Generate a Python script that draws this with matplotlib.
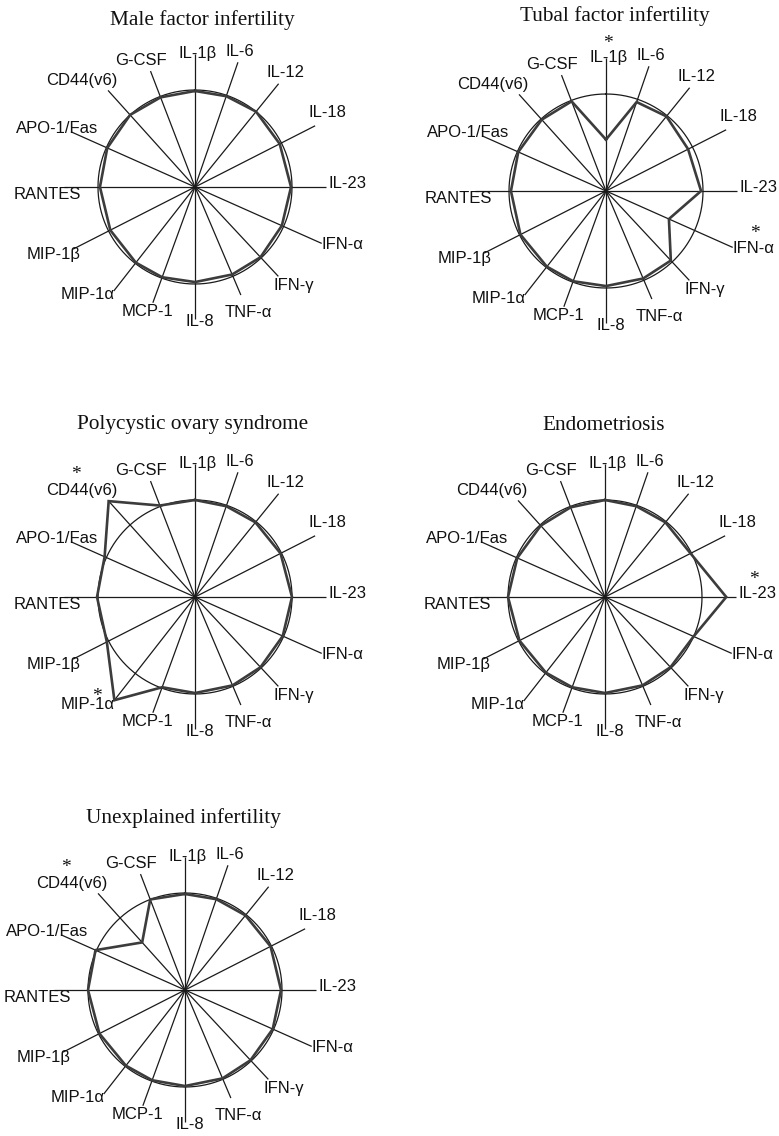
import numpy as np
import matplotlib
matplotlib.use("Agg")
import matplotlib.pyplot as plt

# ---------------- data ----------------
cytokines = ["IL-1β", "IL-6", "IL-12", "IL-18", "IL-23", "IFN-α", "IFN-γ", "TNF-α",
             "IL-8", "MCP-1", "MIP-1α", "MIP-1β", "RANTES", "APO-1/Fas", "CD44(v6)", "G-CSF"]

titles = ["Male factor infertility", "Tubal factor infertility",
          "Polycystic ovary syndrome", "Endometriosis", "Unexplained infertility"]

# ratio to reference (circle = 1)
male = [0.99, 0.99, 1.00, 0.98, 0.99, 0.98, 0.99, 0.98, 0.98, 0.99, 0.99, 0.98, 0.98, 0.99, 1.00, 0.99]
tubal = [0.53, 0.97, 0.99, 0.95, 0.98, 0.71, 0.98, 0.98, 0.98, 0.99, 0.99, 0.99, 0.98, 0.99, 0.99, 0.99]
pcos = [1.00, 0.99, 0.99, 0.99, 1.00, 0.99, 0.99, 0.99, 0.99, 0.99, 1.35, 1.02, 1.01, 1.02, 1.33, 1.01]
endo = [1.00, 0.99, 0.99, 0.99, 1.25, 1.00, 0.99, 0.99, 0.99, 0.99, 0.99, 0.99, 1.00, 0.99, 0.99, 0.99]
unexpl = [0.99, 0.99, 0.99, 0.99, 0.99, 0.99, 0.99, 0.99, 0.99, 0.99, 0.99, 0.99, 1.00, 1.01, 0.66, 1.00]
groups = [male, tubal, pcos, endo, unexpl]

# significant differences (*)
significant = [[], ["IL-1β", "IFN-α"], ["CD44(v6)", "MIP-1α"], ["IL-23"], ["CD44(v6)"]]

# ---------------- layout ----------------
W, H, DPI = 779, 1136, 100
spoke_deg = [0, 19, 39, 63, 90, 114, 137, 157, 180, 200, 218, 243, 270, 294, 318, 339]
spoke_len = [1.37, 1.36, 1.37, 1.39, 1.35, 1.43, 1.26, 1.21, 1.36, 1.27, 1.36, 1.41, 1.35, 1.40, 1.34, 1.28]
label_deg = [1, 18.4, 38.4, 60.7, 88.5, 111.5, 134.7, 157, 178, 201, 225, 244.4, 267, 293.1, 313.4, 337]
label_r = [1.38, 1.47, 1.51, 1.56, 1.57, 1.63, 1.44, 1.40, 1.39, 1.38, 1.57, 1.62, 1.52, 1.55, 1.60, 1.42]
star_off = {"IL-1β": (0, 14), "IFN-α": (2, 15), "CD44(v6)": (-6, 16), "MIP-1α": (10, 8), "IL-23": (-3, 14)}

centers = [(195, 187), (606, 191), (195, 597), (605, 597), (185, 990)]
title_pos = [(202, 20), (615, 16), (193, 425), (604, 425), (183, 818)]
rpx = 97.0
RMAX = 1.8

fig = plt.figure(figsize=(W / DPI, H / DPI), dpi=DPI)
fig.patch.set_facecolor("white")

th_sp = np.deg2rad(spoke_deg)
th_lab = np.deg2rad(label_deg)
circ = np.linspace(0, 2 * np.pi, 721)

for gi, vals in enumerate(groups):
    cx, cy = centers[gi]
    half = RMAX * rpx
    ax = fig.add_axes([(cx - half) / W, (H - cy - half) / H, 2 * half / W, 2 * half / H],
                      projection="polar")
    ax.set_theta_zero_location("N")
    ax.set_theta_direction(-1)
    ax.set_ylim(0, RMAX)
    ax.set_axis_off()

    for t, L in zip(th_sp, spoke_len):
        ax.plot([t, t], [0, L], color="#1a1a1a", lw=0.9, solid_capstyle="butt")
    ax.plot(circ, np.ones_like(circ), color="#1a1a1a", lw=0.9)

    tv = np.append(th_sp, th_sp[0])
    rv = np.append(vals, vals[0])
    ax.plot(tv, rv, color="#3c3c3c", lw=1.9, solid_joinstyle="miter")

    for name, t, r in zip(cytokines, th_lab, label_r):
        ax.text(t, r, name, ha="center", va="center", fontsize=12,
                family=["Liberation Sans", "DejaVu Sans"], color="#111111", clip_on=False)
        if name in significant[gi]:
            dx, dy = star_off[name]
            ax.annotate("*", xy=(t, r), xytext=(dx, dy), textcoords="offset pixels",
                        ha="center", va="center", fontsize=14,
                        family=["Liberation Serif", "DejaVu Serif"], color="#111111",
                        annotation_clip=False)

    tx, ty = title_pos[gi]
    fig.text(tx / W, 1 - ty / H, titles[gi], ha="center", va="center",
             fontsize=15.3, family=["Liberation Serif", "DejaVu Serif"], color="#111111")

fig.savefig("out.png", dpi=DPI, facecolor="white")
